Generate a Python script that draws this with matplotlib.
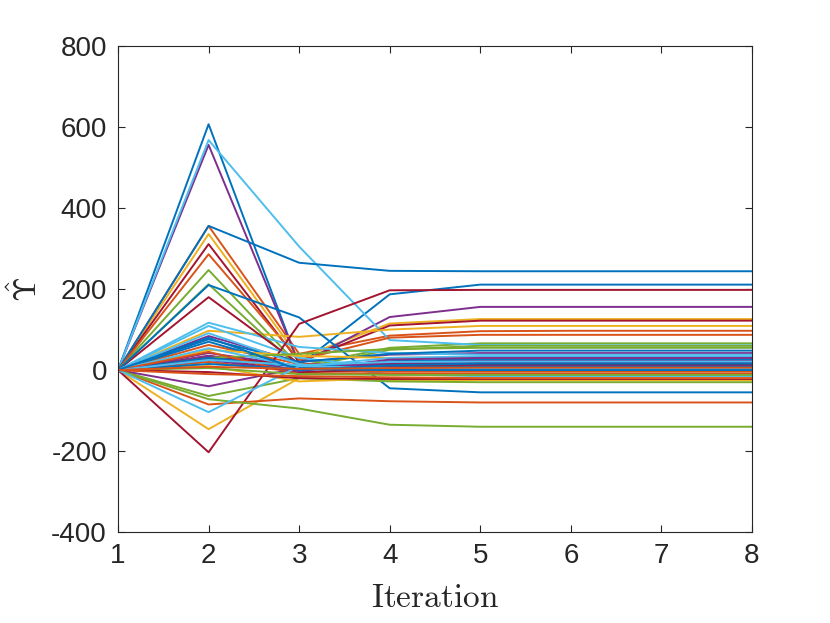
import numpy as np
import matplotlib
matplotlib.use('Agg')
import matplotlib.pyplot as plt

plt.rcParams['font.family'] = ['Liberation Sans', 'DejaVu Sans']
plt.rcParams['mathtext.fontset'] = 'cm'
plt.rcParams['axes.unicode_minus'] = False

# Iterations on the x axis
iterations = [1, 2, 3, 4, 5, 6, 7, 8]

# Estimated trajectories, grouped by line colour (MATLAB default order)
blue_lines = [
    [0, 607, 12, 187, 211, 211, 211, 211],
    [0, 356, 265, 245, 244, 244, 244, 244],
    [0, 210, 130, -45, -55, -55, -55, -55],
    [0, 76, 20, 40, 48, 48, 48, 48],
    [0, 70, 5, 22, 27, 27, 27, 27],
    [0, 30, 8, 6, 8, 8, 8, 8],
    [0, 15, 2, 0, 0, 0, 0, 0],
    [0, 80, 0, 12, 16, 16, 16, 16],
]
orange_lines = [
    [0, 356, 40, 85, 96, 97, 97, 97],
    [0, 286, 25, 80, 87, 87, 87, 87],
    [0, 62, 15, 8, 10, 10, 10, 10],
    [0, -85, -70, -77, -80, -80, -80, -80],
    [0, 20, -5, -3, -3, -3, -3, -3],
    [0, 45, -10, -8, -8, -8, -8, -8],
    [0, -10, -15, -18, -20, -20, -20, -20],
    [0, 8, 3, 5, 6, 6, 6, 6],
]
yellow_lines = [
    [0, 336, 30, 115, 126, 126, 126, 126],
    [0, 97, 82, 100, 109, 109, 109, 109],
    [0, -146, -20, -25, -25, -25, -25, -25],
    [0, 10, -28, -20, -18, -18, -18, -18],
    [0, 50, 35, 30, 32, 32, 32, 32],
]
purple_lines = [
    [0, 556, 15, 131, 156, 156, 156, 156],
    [0, 84, 20, 38, 42, 42, 42, 42],
    [0, 42, 10, 20, 24, 24, 24, 24],
    [0, -40, 5, 10, 12, 12, 12, 12],
    [0, 35, 0, 18, 20, 20, 20, 20],
    [0, 25, -3, 26, 30, 30, 30, 30],
]
green_lines = [
    [0, 247, 10, 55, 66, 66, 66, 66],
    [0, 212, 5, 50, 60, 60, 60, 60],
    [0, -64, -20, -28, -30, -30, -30, -30],
    [0, -72, -95, -135, -140, -140, -140, -140],
    [0, 30, 40, 52, 55, 55, 55, 55],
    [0, 5, -10, -12, -12, -12, -12, -12],
]
lightblue_lines = [
    [0, 568, 305, 74, 62, 61, 61, 61],
    [0, 117, 57, 42, 38, 38, 38, 38],
    [0, 109, 30, 5, 2, 2, 2, 2],
    [0, 91, 15, -10, -15, -15, -15, -15],
    [0, 54, 8, 30, 34, 34, 34, 34],
    [0, -104, 10, 5, 4, 4, 4, 4],
    [0, 25, 12, 20, 21, 21, 21, 21],
]
darkred_lines = [
    [0, 311, 20, 110, 122, 122, 122, 122],
    [0, 180, 15, 15, 18, 18, 18, 18],
    [0, -203, 114, 197, 198, 198, 198, 198],
    [0, 35, 10, 12, 14, 14, 14, 14],
    [0, 30, -5, 2, 4, 4, 4, 4],
    [0, -5, -20, -22, -22, -22, -22, -22],
]

groups = [
    (blue_lines, '#0072BD'),
    (orange_lines, '#D95319'),
    (yellow_lines, '#EDB120'),
    (purple_lines, '#7E2F8E'),
    (green_lines, '#77AC30'),
    (lightblue_lines, '#4DBEEE'),
    (darkred_lines, '#A2142F'),
]

fig = plt.figure(figsize=(8.30, 6.23), dpi=100)
ax = fig.add_axes([0.1422, 0.146, 0.7638, 0.780])

# interleave the groups so colours overlap like a cycled plot
nmax = max(len(g[0]) for g in groups)
for i in range(nmax):
    for lines, color in groups:
        if i < len(lines):
            ax.plot(iterations, lines[i], color=color, lw=1.4)

ax.set_xlim(1, 8)
ax.set_ylim(-400, 800)
ax.set_xticks(iterations)
ax.set_yticks(np.arange(-400, 801, 200))

axcol = '#262626'
for sp in ax.spines.values():
    sp.set_color(axcol)
    sp.set_linewidth(0.8)
ax.tick_params(direction='in', length=5, width=0.8, colors=axcol,
               labelsize=20, top=True, right=True, pad=8)

ax.set_xlabel(r'$\mathrm{Iteration}$', fontsize=24, color=axcol, labelpad=10)
ax.set_ylabel(r'$\hat{\Upsilon}$', fontsize=23, color=axcol, labelpad=5)

fig.savefig('out.png', dpi=100)
